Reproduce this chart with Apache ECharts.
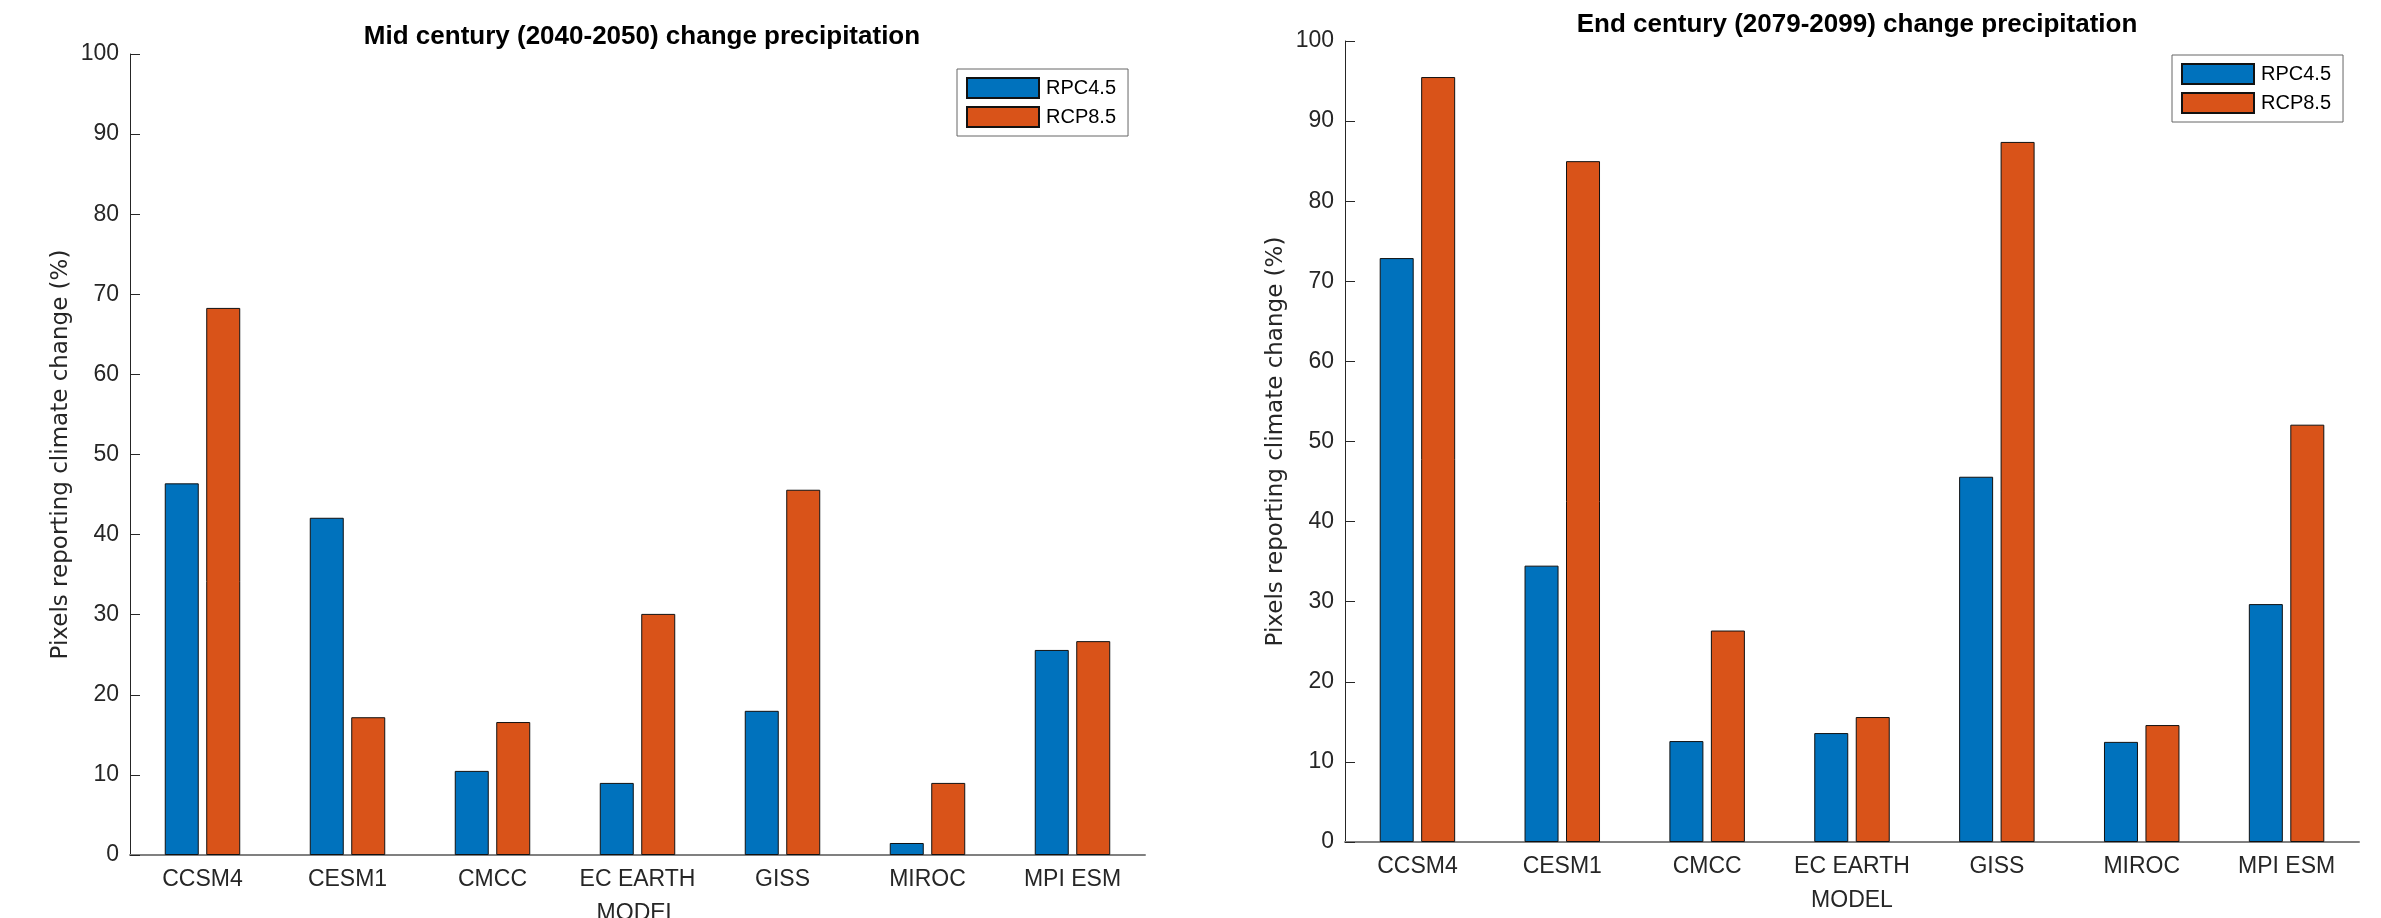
<!DOCTYPE html>
<html>
<head>
<meta charset="utf-8">
<title>Precipitation change</title>
<script src="https://cdn.jsdelivr.net/npm/echarts@6/dist/echarts.min.js"></script>
<style>
  html, body { margin: 0; padding: 0; background: #fff; }
  #main { width: 2381px; height: 918px; }
</style>
</head>
<body>
<div id="main"></div>
<script>
// categories (x axis)
var models = ['CCSM4', 'CESM1', 'CMCC', 'EC EARTH', 'GISS', 'MIROC', 'MPI ESM'];
var seriesNames = ['RPC4.5', 'RCP8.5'];

// mid century (2040-2050)
var midRpc45 = [46.4, 42.1, 10.5, 9.0, 18.0, 1.5, 25.6];
var midRcp85 = [68.3, 17.2, 16.6, 30.1, 45.6, 9.0, 26.7];

// end century (2079-2099)
var endRpc45 = [72.9, 34.5, 12.6, 13.6, 45.6, 12.5, 29.7];
var endRcp85 = [95.5, 85.0, 26.4, 15.6, 87.4, 14.6, 52.1];

// y ticks 0..100 step 10
var yMin = 0, yMax = 100, yStep = 10;

var titles = ['Mid century (2040-2050) change precipitation', 'End century (2079-2099) change precipitation'];
var yName = 'Pixels reporting climate change (%)';
var xName = 'MODEL';

var colors = ['#0072BD', '#D95319'];
var axisColor = '#262626';
var font = 'Liberation Sans';

function makeX(idx){
	return {
		type: 'category',
		gridIndex: idx,
		data: models,
		boundaryGap: true,
		name: xName,
		nameLocation: 'middle',
		nameGap: 47,
		nameTextStyle: { fontFamily: font, fontSize: 23, color: axisColor },
		axisLine: { lineStyle: { color: '#808080', width: 2 } },
		axisTick: { inside: true, alignWithLabel: true, length: 10, lineStyle: { color: axisColor, width: 1 } },
		axisLabel: { interval: 0, margin: 13, fontFamily: font, fontSize: 23, color: axisColor },
		splitLine: { show: false }
	};
}

function makeY(idx){
	return {
		type: 'value',
		gridIndex: idx,
		min: yMin,
		max: yMax,
		interval: yStep,
		name: yName,
		nameLocation: 'middle',
		nameGap: 57,
		nameTextStyle: { fontFamily: 'DejaVu Sans', fontSize: 23, color: axisColor },
		axisLine: { show: true, lineStyle: { color: axisColor, width: 1 } },
		axisTick: { show: true, inside: true, length: 10, lineStyle: { color: axisColor } },
		axisLabel: { margin: 11, fontFamily: font, fontSize: 23, color: axisColor },
		splitLine: { show: false }
	};
}

function makeBar(name, data, idx, color){
	return {
		name: name,
		type: 'bar',
		xAxisIndex: idx,
		yAxisIndex: idx,
		data: data,
		barWidth: 34,
		barGap: '22%',
		itemStyle: { color: color, borderColor: '#111', borderWidth: 1 }
	};
}

function makeLegend(left, top){
	return {
		orient: 'vertical',
		left: left,
		top: top,
		data: seriesNames,
		icon: 'rect',
		itemWidth: 72,
		itemHeight: 20,
		itemGap: 7,
		padding: [8, 12, 8, 9],
		borderColor: '#666',
		borderWidth: 1,
		backgroundColor: '#fff',
		textStyle: { fontFamily: font, fontSize: 20, color: '#000', padding: [0, 0, 0, 2] }
	};
}

var myChart = echarts.init(document.getElementById('main'), null, { renderer: 'canvas' });
var options = {
	backgroundColor: '#fff',
	animation: false,
	color: colors,
	title: [
		{ text: titles[0], left: 637, top: 19, textAlign: 'center',
		  textStyle: { fontFamily: font, fontSize: 26, fontWeight: 'bold', color: '#000' } },
		{ text: titles[1], left: 1852, top: 7, textAlign: 'center',
		  textStyle: { fontFamily: font, fontSize: 26, fontWeight: 'bold', color: '#000' } }
	],
	legend: [ makeLegend(957, 69), makeLegend(2172, 55) ],
	grid: [
		{ left: 130, top: 54, width: 1015, height: 801, outerBoundsMode: 'none', containLabel: false },
		{ left: 1345, top: 41, width: 1014, height: 801, outerBoundsMode: 'none', containLabel: false }
	],
	xAxis: [ makeX(0), makeX(1) ],
	yAxis: [ makeY(0), makeY(1) ],
	series: [
		makeBar(seriesNames[0], midRpc45, 0, colors[0]),
		makeBar(seriesNames[1], midRcp85, 0, colors[1]),
		makeBar(seriesNames[0], endRpc45, 1, colors[0]),
		makeBar(seriesNames[1], endRcp85, 1, colors[1])
	]
};
myChart.setOption(options);
</script>
</body>
</html>
